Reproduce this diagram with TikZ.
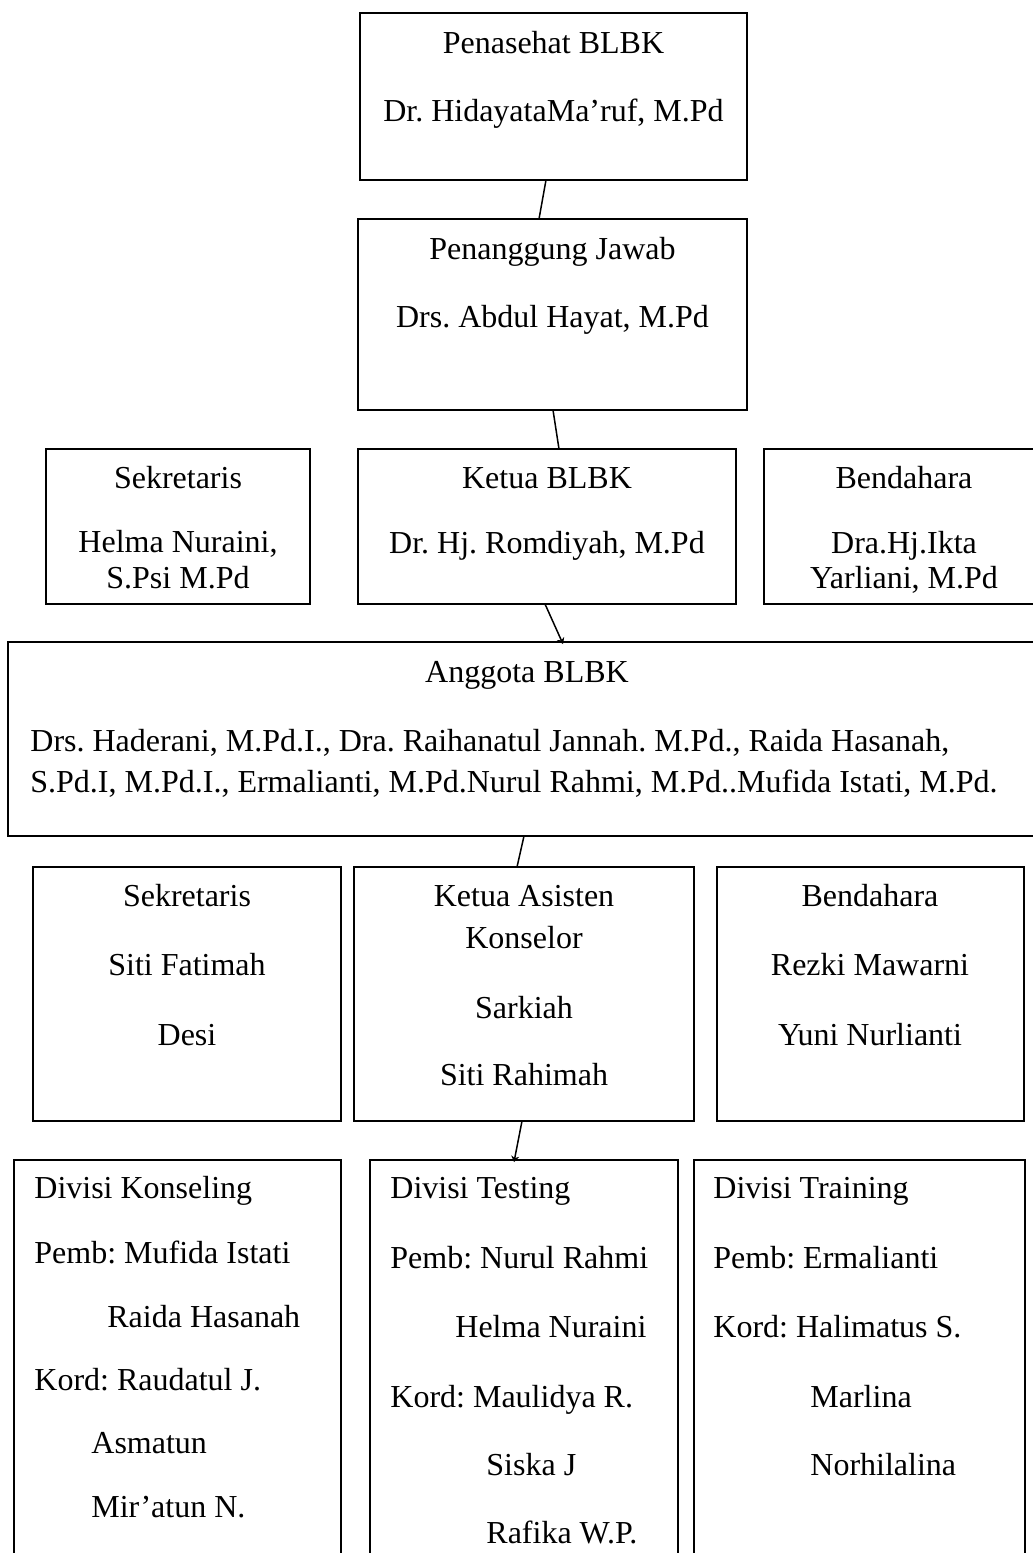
\documentclass[tikz,border=0pt]{standalone}
\usepackage{fontspec}
\setmainfont{Liberation Serif}
\usetikzlibrary{fit,arrows.meta}
\frenchspacing
\begin{document}
\begin{tikzpicture}[x=0.5pt,y=-0.5pt,
  box/.style={draw=black,line width=1pt,inner sep=0pt,outer sep=0pt,rectangle},
  tc/.style={anchor=base,inner sep=0pt,font=\fontsize{16}{19}\selectfont},
  tl/.style={anchor=base west,inner sep=0pt,font=\fontsize{16}{19}\selectfont},
  link/.style={draw=black,line width=0.75pt},
  linkarrow/.style={link,-{Stealth[length=3pt,width=4pt]}}]
\useasboundingbox (0,0) rectangle (1033,1553);
\clip (0,0) rectangle (1033,1553);
% boxes
\node[box,fit={(360,13) (747,180)}] (b1) {};
\node[box,fit={(358,219) (747,410)}] (b2) {};
\node[box,fit={(46,449) (310,604)}] (s1) {};
\node[box,fit={(358,449) (736,604)}] (k1) {};
\node[box,fit={(764,449) (1044,604)}] (d1) {};
\node[box,fit={(8,642) (1046,836)}] (ang) {};
\node[box,fit={(33,867) (341,1121)}] (s2) {};
\node[box,fit={(354,867) (694,1121)}] (k2) {};
\node[box,fit={(717,867) (1024,1121)}] (d2) {};
\node[box,fit={(14,1160) (341,1620)}] (dv1) {};
\node[box,fit={(370,1160) (678,1620)}] (dv2) {};
\node[box,fit={(694,1160) (1025,1620)}] (dv3) {};
% connectors
\draw[link] ([xshift=-3.75pt]b1.south) -- ([xshift=-6.75pt]b2.north);
\draw[link] ([xshift=0.25pt]b2.south) -- ([xshift=6pt]k1.north);
\draw[linkarrow] ([xshift=-1pt]k1.south) -- ([xshift=18pt,yshift=-1pt]ang.north);
\draw[link] ([xshift=-1.5pt]ang.south) -- ([xshift=-3.5pt]k2.north);
\draw[linkarrow] ([xshift=-1pt]k2.south) -- ([xshift=-5pt,yshift=-1pt]dv2.north);
% texts
\node[tc] (t1a) at (553.5,53) {Penasehat BLBK};
\node[tc] (t1b) at (553.5,121) {Dr. HidayataMa’ruf, M.Pd};
\node[tc] (t2a) at (552.5,259) {Penanggung Jawab};
\node[tc] (t2b) at (552.5,327) {Drs. Abdul Hayat, M.Pd};
\node[tc] (t3a) at (178,488) {Sekretaris};
\node[tc] (t3b) at (178,552) {Helma Nuraini,};
\node[tc] (t3c) at (178,588) {S.Psi M.Pd};
\node[tc] (t4a) at (547,488) {Ketua BLBK};
\node[tc] (t4b) at (547,553) {Dr. Hj. Romdiyah, M.Pd};
\node[tc] (t5a) at (904,488) {Bendahara};
\node[tc] (t5b) at (904,553) {Dra.Hj.Ikta};
\node[tc] (t5c) at (904,588) {Yarliani, M.Pd};
\node[tc] (t6a) at (527,682) {Anggota BLBK};
\node[tl] (t6b) at (30,751) {Drs. Haderani, M.Pd.I., Dra. Raihanatul Jannah. M.Pd., Raida Hasanah,};
\node[tl] (t6c) at (30,792) {S.Pd.I, M.Pd.I., Ermalianti, M.Pd.Nurul Rahmi, M.Pd..Mufida Istati, M.Pd.};
\node[tc] (t7a) at (187,906) {Sekretaris};
\node[tc] (t7b) at (187,975) {Siti Fatimah};
\node[tc] (t7c) at (187,1045) {Desi};
\node[tc] (t8a) at (524,906) {Ketua Asisten};
\node[tc] (t8b) at (524,948) {Konselor};
\node[tc] (t8c) at (524,1018) {Sarkiah};
\node[tc] (t8d) at (524,1085) {Siti Rahimah};
\node[tc] (t9a) at (870,906) {Bendahara};
\node[tc] (t9b) at (870,975) {Rezki Mawarni};
\node[tc] (t9c) at (870,1045) {Yuni Nurlianti};
\node[tl] (u1a) at (34,1198) {Divisi Konseling};
\node[tl] (u1b) at (34,1263) {Pemb: Mufida Istati};
\node[tl] (u1c) at (107,1327) {Raida Hasanah};
\node[tl] (u1d) at (34,1390) {Kord: Raudatul J.};
\node[tl] (u1e) at (91,1453) {Asmatun};
\node[tl] (u1f) at (91,1517) {Mir’atun N.};
\node[tl] (u2a) at (390,1198) {Divisi Testing};
\node[tl] (u2b) at (390,1268) {Pemb: Nurul Rahmi};
\node[tl] (u2c) at (455,1337) {Helma Nuraini};
\node[tl] (u2d) at (390,1407) {Kord: Maulidya R.};
\node[tl] (u2e) at (486,1475) {Siska J};
\node[tl] (u2f) at (486,1543) {Rafika W.P.};
\node[tl] (u3a) at (713,1198) {Divisi Training};
\node[tl] (u3b) at (713,1268) {Pemb: Ermalianti};
\node[tl] (u3c) at (713,1337) {Kord: Halimatus S.};
\node[tl] (u3d) at (810,1407) {Marlina};
\node[tl] (u3e) at (810,1475) {Norhilalina};
\end{tikzpicture}
\end{document}
